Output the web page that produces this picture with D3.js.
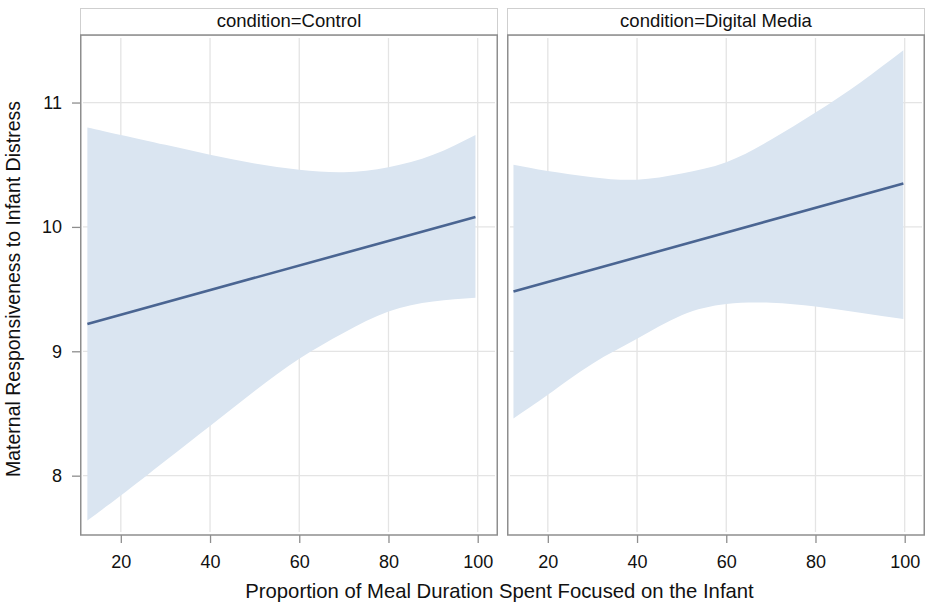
<!DOCTYPE html>
<html>
<head>
<meta charset="utf-8">
<script src="https://cdn.jsdelivr.net/npm/d3@7"></script>
<style>
  body { margin: 0; background: #fff; }
  svg { display: block; font-family: "Liberation Sans", Arial, sans-serif; }
</style>
</head>
<body>
<div id="chart"></div>
<script>
// panels
const conditions = ['Control', 'Digital Media'];

// x positions where the band was read (first/last = ends of the fit)
const controlX = [12.5, 20, 30, 40, 50, 60, 70, 80, 90, 99.5];
const controlUpper = [10.80, 10.74, 10.66, 10.58, 10.51, 10.46, 10.44, 10.48, 10.58, 10.74];
const controlLower = [7.64, 7.84, 8.12, 8.40, 8.68, 8.94, 9.15, 9.32, 9.40, 9.43];
const controlFit = [9.22, 10.08]; // at first and last x

const digitalX = [12.3, 20, 30, 40, 50, 60, 70, 80, 90, 99.7];
const digitalUpper = [10.50, 10.45, 10.40, 10.38, 10.43, 10.52, 10.70, 10.92, 11.16, 11.42];
const digitalLower = [8.46, 8.65, 8.90, 9.10, 9.29, 9.38, 9.39, 9.36, 9.31, 9.26];
const digitalFit = [9.48, 10.35];

const xTicks = [20, 40, 60, 80, 100];
const yTicks = [8, 9, 10, 11];

const xLabel = 'Proportion of Meal Duration Spent Focused on the Infant';
const yLabel = 'Maternal Responsiveness to Infant Distress';

// dimensions
const WIDTH = 935;
const HEIGHT = 613;
const PANEL_LEFT = [80, 507];
const PANEL_WIDTH = 418;
const HEADER_TOP = 8;
const PLOT_TOP = 35;
const PLOT_BOTTOM = 535;
const FONT = '"Liberation Sans", Arial, sans-serif';

const BAND_COLOR = '#dae5f1';
const LINE_COLOR = '#4a6592';
const GRID_COLOR = '#e4e4e4';
const FRAME_COLOR = '#8e8e8e';

const panels = [
  { name: conditions[0], xs: controlX, upper: controlUpper, lower: controlLower, fit: controlFit },
  { name: conditions[1], xs: digitalX, upper: digitalUpper, lower: digitalLower, fit: digitalFit },
];

const scaleX = d3.scaleLinear().domain([10.85, 104.55]).range([0, PANEL_WIDTH]);
const scaleY = d3.scaleLinear().domain([7.523, 11.543]).range([PLOT_BOTTOM, PLOT_TOP]);

const $svg = d3.select('#chart').append('svg')
  .attr('width', WIDTH)
  .attr('height', HEIGHT);

const area = d3.area()
  .x(d => scaleX(d.x))
  .y0(d => scaleY(d.lo))
  .y1(d => scaleY(d.hi))
  .curve(d3.curveNatural);

const line = d3.line()
  .x(d => scaleX(d.x))
  .y(d => scaleY(d.y));

panels.forEach((p, i) => {
  const $g = $svg.append('g')
    .attr('transform', `translate(${PANEL_LEFT[i]},0)`);

  // header strip
  $g.append('rect')
    .attr('x', 0.5)
    .attr('y', HEADER_TOP + 0.5)
    .attr('width', PANEL_WIDTH - 1)
    .attr('height', PLOT_TOP - HEADER_TOP)
    .attr('fill', '#fff')
    .attr('stroke', '#cfcfcf');
  $g.append('text')
    .attr('x', PANEL_WIDTH / 2)
    .attr('y', (HEADER_TOP + PLOT_TOP) / 2 + 1)
    .attr('text-anchor', 'middle')
    .attr('dominant-baseline', 'middle')
    .attr('font-size', 18.5)
    .attr('fill', '#111')
    .text(`condition=${p.name}`);

  // grid
  $g.append('g').selectAll('line')
    .data(xTicks)
    .join('line')
    .attr('x1', d => scaleX(d)).attr('x2', d => scaleX(d))
    .attr('y1', PLOT_TOP + 3).attr('y2', PLOT_BOTTOM - 3)
    .attr('stroke', GRID_COLOR).attr('stroke-width', 1.3);
  $g.append('g').selectAll('line')
    .data(yTicks)
    .join('line')
    .attr('x1', 3).attr('x2', PANEL_WIDTH - 3)
    .attr('y1', d => scaleY(d)).attr('y2', d => scaleY(d))
    .attr('stroke', GRID_COLOR).attr('stroke-width', 1.3);

  // confidence band
  const bandData = p.xs.map((x, j) => ({ x, lo: p.lower[j], hi: p.upper[j] }));
  $g.append('path')
    .datum(bandData)
    .attr('d', area)
    .attr('fill', BAND_COLOR);

  // fitted line
  const fitData = [
    { x: p.xs[0], y: p.fit[0] },
    { x: p.xs[p.xs.length - 1], y: p.fit[1] },
  ];
  $g.append('path')
    .datum(fitData)
    .attr('d', line)
    .attr('fill', 'none')
    .attr('stroke', LINE_COLOR)
    .attr('stroke-width', 2.6);

  // frame
  $g.append('rect')
    .attr('x', 0.75)
    .attr('y', PLOT_TOP)
    .attr('width', PANEL_WIDTH - 1.5)
    .attr('height', PLOT_BOTTOM - PLOT_TOP)
    .attr('fill', 'none')
    .attr('stroke', FRAME_COLOR)
    .attr('stroke-width', 1.5);

  // x axis
  const $xAxis = $g.append('g')
    .attr('transform', `translate(0,${PLOT_BOTTOM})`)
    .call(d3.axisBottom(scaleX).tickValues(xTicks).tickSize(8).tickPadding(12));
  $xAxis.select('.domain').remove();
  $xAxis.selectAll('line').attr('stroke', FRAME_COLOR).attr('stroke-width', 1.3);
  $xAxis.selectAll('text')
    .attr('font-size', 18)
    .attr('font-family', FONT)
    .attr('fill', '#111');

  // y axis only on first panel
  if (i === 0) {
    const $yAxis = $g.append('g')
      .call(d3.axisLeft(scaleY).tickValues(yTicks).tickFormat(d3.format('d')).tickSize(8).tickPadding(10));
    $yAxis.select('.domain').remove();
    $yAxis.selectAll('line').attr('stroke', FRAME_COLOR).attr('stroke-width', 1.3);
    $yAxis.selectAll('text')
      .attr('font-size', 18)
      .attr('font-family', FONT)
      .attr('fill', '#111');
  }
});

// axis titles
$svg.append('text')
  .attr('x', (PANEL_LEFT[0] + PANEL_LEFT[1] + PANEL_WIDTH) / 2 - 3)
  .attr('y', 598)
  .attr('text-anchor', 'middle')
  .attr('font-size', 20.3)
  .attr('fill', '#111')
  .text(xLabel);

$svg.append('text')
  .attr('transform', `translate(20,${(PLOT_TOP + PLOT_BOTTOM) / 2 + 4}) rotate(-90)`)
  .attr('text-anchor', 'middle')
  .attr('font-size', 19.5)
  .attr('fill', '#111')
  .text(yLabel);
</script>
</body>
</html>
